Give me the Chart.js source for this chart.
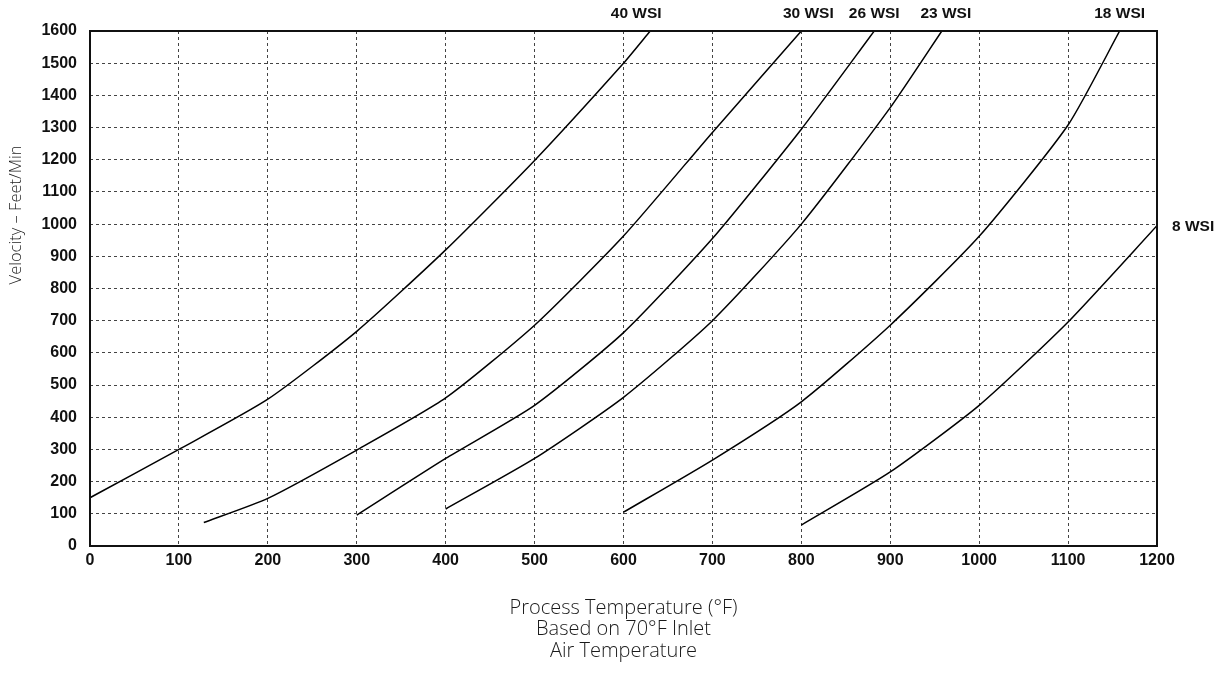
<!DOCTYPE html>
<html>
<head>
<meta charset="utf-8">
<script src="https://cdn.jsdelivr.net/npm/chart.js@4.4.1/dist/chart.umd.min.js"></script>
<style>
html, body { margin: 0; padding: 0; background: #fff; }
#wrap { width: 1226px; height: 673px; position: relative; }
</style>
</head>
<body>
<div id="wrap"><canvas id="chart"></canvas></div>
<script>
const ctx = document.getElementById('chart').getContext('2d');

// curve names (WSI)
const curveNames = ['40 WSI', '30 WSI', '26 WSI', '23 WSI', '18 WSI', '8 WSI'];

// process temperature (°F) / velocity (ft/min)
const temp40 = [0, 100, 200, 300, 400, 500, 600, 630];
const vel40  = [150, 300, 456, 667, 920, 1198, 1500, 1600];

const temp30 = [128, 200, 300, 400, 500, 600, 700, 800];
const vel30  = [73, 148, 298, 460, 686, 963, 1285, 1600];

const temp26 = [300, 400, 500, 600, 700, 800, 882];
const vel26  = [96, 272, 437, 663, 955, 1295, 1600];

const temp23 = [400, 500, 600, 700, 800, 900, 958];
const vel23  = [115, 272, 462, 700, 1000, 1362, 1600];

const temp18 = [600, 700, 800, 900, 1000, 1100, 1158];
const vel18  = [105, 267, 448, 686, 962, 1308, 1600];

const temp8 = [800, 900, 1000, 1100, 1200];
const vel8  = [65, 230, 437, 696, 995];

// axis ticks
const xTicks = [0, 100, 200, 300, 400, 500, 600, 700, 800, 900, 1000, 1100, 1200];
const yTicks = [0, 100, 200, 300, 400, 500, 600, 700, 800, 900, 1000, 1100, 1200, 1300, 1400, 1500, 1600];

const xTitle = ['Process Temperature (°F)', 'Based on 70°F Inlet', 'Air Temperature'];
const yTitle = 'Velocity – Feet/Min';

const allTemps = [temp40, temp30, temp26, temp23, temp18, temp8];
const allVels = [vel40, vel30, vel26, vel23, vel18, vel8];

function toPoints(xs, ys) {
    return xs.map((x, i) => ({ x: x, y: ys[i] }));
}

const datasets = curveNames.map((name, i) => ({
    label: name,
    data: toPoints(allTemps[i], allVels[i]),
    borderColor: '#000',
    borderWidth: 1.5,
    pointRadius: 0,
    tension: 0.2,
    fill: false
}));

const LIGHT = "300 {s}px 'Open Sans', 'Liberation Sans', Arial, sans-serif";
const BOLD = { family: "'Liberation Sans', Arial, sans-serif", size: 16, weight: 'bold' };

// labels, titles and frame
const decor = {
    id: 'decor',
    afterDraw(chart) {
        const c = chart.ctx;
        const a = chart.chartArea;
        const xs = chart.scales.x, ys = chart.scales.y;

        // frame
        c.save();
        c.setLineDash([]);
        c.strokeStyle = '#111';
        c.lineWidth = 2;
        c.strokeRect(a.left, a.top, a.right - a.left, a.bottom - a.top);

        // curve labels
        c.fillStyle = '#111';
        c.font = "bold 15.5px 'Liberation Sans', Arial, sans-serif";
        c.textBaseline = 'middle';
        const dx = [-14, 7, 0, 4, 0];
        for (let i = 0; i < 5; i++) {
            const t = allTemps[i];
            c.textAlign = 'center';
            c.fillText(curveNames[i], xs.getPixelForValue(t[t.length - 1]) + dx[i], 14);
        }
        c.textAlign = 'left';
        c.fillText(curveNames[5], a.right + 15, ys.getPixelForValue(vel8[vel8.length - 1]) + 1);

        // x title
        c.fillStyle = '#1a1a1a';
        c.font = LIGHT.replace('{s}', 20);
        c.textAlign = 'center';
        const cx = (a.left + a.right) / 2;
        xTitle.forEach((line, i) => c.fillText(line, cx, 608 + i * 21.5));

        // y title
        c.font = LIGHT.replace('{s}', 16.5);
        c.translate(16, 215);
        c.rotate(-Math.PI / 2);
        c.fillText(yTitle, 0, 0);
        c.restore();
    }
};

new Chart(ctx, {
    type: 'line',
    data: { datasets: datasets },
    options: {
        responsive: true,
        maintainAspectRatio: false,
        animation: false,
        layout: { padding: { top: 31, right: 69, left: 0, bottom: 0 } },
        plugins: { legend: { display: false }, tooltip: { enabled: false } },
        scales: {
            x: {
                type: 'linear',
                min: 0, max: 1200,
                afterBuildTicks: s => { s.ticks = xTicks.map(v => ({ value: v })); },
                afterFit: s => { s.height = 127; },
                ticks: { color: '#111', padding: 5, font: BOLD, callback: v => String(v) },
                grid: { color: '#444', lineWidth: 1, drawTicks: false },
                border: { display: false, dash: [3, 3] }
            },
            y: {
                min: 0, max: 1600,
                afterBuildTicks: s => { s.ticks = yTicks.map(v => ({ value: v })); },
                afterFit: s => { s.width = 90; },
                ticks: { color: '#111', padding: 13, font: BOLD, callback: v => String(v) },
                grid: { color: '#444', lineWidth: 1, drawTicks: false },
                border: { display: false, dash: [3, 3] }
            }
        }
    },
    plugins: [decor]
});
</script>
</body>
</html>
